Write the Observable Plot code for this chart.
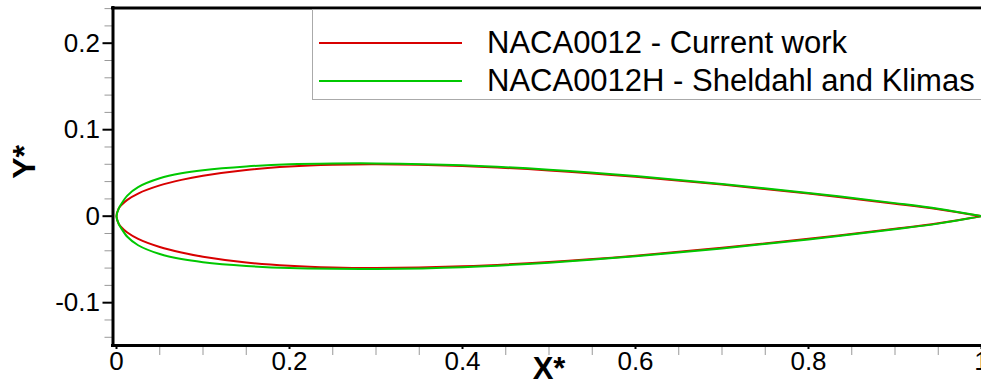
<!DOCTYPE html>
<html>
<head>
<meta charset="utf-8">
<script src="https://cdn.jsdelivr.net/npm/d3@7"></script>
<script src="https://cdn.jsdelivr.net/npm/@observablehq/plot@0.6"></script>
<style>
  html, body { margin: 0; padding: 0; background: #fff; overflow: hidden; }
  #wrap { position: relative; width: 981px; height: 387px; font-family: "Liberation Sans", Arial, Helvetica, sans-serif; }
  #legend { position: absolute; left: 312px; top: 9px; width: 700px; height: 91px; border: 1px solid #aaa; background: #fff; box-sizing: border-box; }
  .row { position: absolute; left: 0; height: 38px; display: flex; align-items: center; }
  .row span { font-size: 31px; color: #000; margin-left: 25px; white-space: nowrap; }
</style>
</head>
<body>
<div id="wrap"></div>
<script>
// Chordwise stations (x/c) and half-thickness (y/c)
const xStations = [0, 0.0025, 0.005, 0.0125, 0.025, 0.05, 0.075, 0.1, 0.15, 0.2, 0.25, 0.3, 0.4, 0.5, 0.6, 0.7, 0.8, 0.9, 0.95, 1.0];
const redHalf   = [0, 0.0087, 0.0122, 0.0189, 0.0262, 0.0356, 0.0420, 0.0468, 0.0535, 0.0574, 0.0594, 0.0600, 0.0580, 0.0529, 0.0456, 0.0366, 0.0262, 0.0145, 0.0081, 0];
const greenHalf = [0, 0.0088, 0.0132, 0.0238, 0.0336, 0.0438, 0.0496, 0.0532, 0.0575, 0.0600, 0.0609, 0.0610, 0.0589, 0.0537, 0.0464, 0.0373, 0.0269, 0.0151, 0.0086, 0];
const seriesNames = ["NACA0012 - Current work", "NACA0012H - Sheldahl and Klimas"];
const seriesColors = ["#d80000", "#00c800"];
const xMajor = [0, 0.2, 0.4, 0.6, 0.8, 1];
const xMinor = d3.range(1, 20).map(i => i * 0.05).filter(v => Math.abs(v / 0.2 - Math.round(v / 0.2)) > 1e-6);
const yMajor = [-0.1, 0, 0.1, 0.2];
const yMinor = d3.range(-7, 13).map(i => i * 0.02).filter(v => Math.abs(v / 0.1 - Math.round(v / 0.1)) > 1e-6);

function loop(half, name) {
  const upper = xStations.map((x, i) => ({x, y: half[i], name})).reverse();
  const lower = xStations.slice(1).map((x, i) => ({x, y: -half[i + 1], name}));
  return upper.concat(lower);
}
const data = loop(redHalf, seriesNames[0]).concat(loop(greenHalf, seriesNames[1]));

const xDom = [-0.00405, 1.0];
const yDom = [-0.1495, 0.2407];
const fmt = d => d === 0 ? "0" : (d === 1 ? "1" : d.toFixed(1));

const chart = Plot.plot({
  width: 981,
  height: 387,
  marginLeft: 112.5,
  marginRight: 0,
  marginTop: 7.5,
  marginBottom: 42,
  style: {fontFamily: "'Liberation Sans', Arial, Helvetica, sans-serif", fontSize: "26px", background: "transparent", overflow: "visible"},
  x: {domain: xDom},
  y: {domain: yDom},
  color: {domain: seriesNames, range: seriesColors},
  marks: [
    Plot.line(data, {x: "x", y: "y", z: "name", stroke: "name", strokeWidth: 2, curve: "catmull-rom"}),
    Plot.axisY(yMinor, {tickSize: 8, tickFormat: () => "", stroke: "#999", strokeWidth: 1, label: null}),
    Plot.axisY(yMajor, {tickSize: 10, tickPadding: 3, tickFormat: fmt, stroke: "#000", strokeWidth: 2, fontSize: 26, fill: "#000", label: null}),
    Plot.axisX(xMinor, {tickSize: 10, tickFormat: () => "", stroke: "#999", strokeWidth: 1, label: null}),
    Plot.axisX(xMajor, {tickSize: 4, tickPadding: 2, tickFormat: fmt, stroke: "#000", strokeWidth: 2, fontSize: 26, fill: "#000", label: null}),
    Plot.ruleX([xDom[0]], {strokeWidth: 3, stroke: "#000", strokeLinecap: "square"}),
    Plot.ruleY([yDom[0], yDom[1]], {strokeWidth: 3, stroke: "#000", strokeLinecap: "square"}),
    Plot.text(["X*"], {x: () => 0.5, frameAnchor: "bottom", dy: 33, text: d => d, fontSize: 31, fontWeight: "bold", fill: "#000"}),
    Plot.text(["Y*"], {frameAnchor: "left", dx: -88, dy: 2, rotate: -90, text: d => d, fontSize: 32, fontWeight: "bold", fill: "#000"})
  ]
});
const wrap = document.getElementById("wrap");
wrap.appendChild(chart);

// Legend (inside the plot area, top)
const legend = document.createElement("div");
legend.id = "legend";
seriesNames.forEach((name, i) => {
  const row = document.createElement("div");
  row.className = "row";
  row.style.top = (14 + i * 38) + "px";
  const sw = document.createElementNS("http://www.w3.org/2000/svg", "svg");
  sw.setAttribute("width", "149"); sw.setAttribute("height", "38");
  const ln = document.createElementNS("http://www.w3.org/2000/svg", "line");
  ln.setAttribute("x1", "6"); ln.setAttribute("x2", "149");
  ln.setAttribute("y1", "19"); ln.setAttribute("y2", "19");
  ln.setAttribute("stroke", seriesColors[i]); ln.setAttribute("stroke-width", "2");
  sw.appendChild(ln);
  const tx = document.createElement("span");
  tx.textContent = name;
  row.appendChild(sw); row.appendChild(tx);
  legend.appendChild(row);
});
wrap.appendChild(legend);
</script>
</body>
</html>
